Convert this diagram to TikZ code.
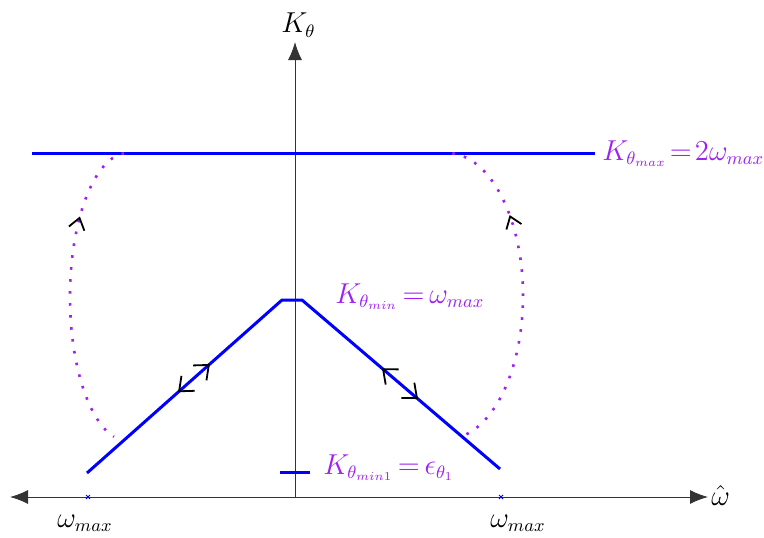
\documentclass[tikz,border=0pt]{standalone}
\usetikzlibrary{arrows.meta,calc}
\definecolor{kblue}{RGB}{0,0,255}
\definecolor{kpurple}{RGB}{160,32,240}
\DeclareMathSizes{14.4}{14.4}{9}{6.5}
\begin{document}
\begin{tikzpicture}[x=0.5pt,y=0.5pt,
  axis/.style={line width=0.5pt, draw=black!80, -{Latex[length=9pt,width=7pt]}},
  bline/.style={line width=1.5pt, draw=kblue},
  dots/.style={line width=1.3pt, draw=kpurple, dash pattern=on 1.3pt off 4.7pt},
  barb/.style={line width=0.9pt, black, -{Straight Barb[length=6pt,width=10pt]}},
  barbs/.style={line width=0.9pt, black, -{Straight Barb[length=5.5pt,width=8pt]}},
  tick/.style={line width=0.5pt, draw=kblue},
  lbl/.style={inner sep=0pt, font=\fontsize{14.4}{17}\selectfont},
  plbl/.style={lbl, text=kpurple}]
\useasboundingbox (0,0) rectangle (764,537);
% axes
\coordinate (O) at (295,40);
\coordinate (xl) at (10,40);
\coordinate (xr) at (708,40);
\coordinate (yt) at (295,495);
\draw[axis] (O) -- (xl);
\draw[axis] (O) -- (xr);
\draw[axis] (O) -- (yt);
% blue lines
\coordinate (T1) at (32,384);
\coordinate (T2) at (595,384);
\draw[bline] (T1) -- (T2);
\coordinate (A) at (87,64);
\coordinate (B) at (282,237);
\coordinate (C) at (302,237);
\coordinate (D) at (500,68);
\draw[bline] (A) -- (B) -- (C) -- (D);
\coordinate (S1) at (280,65);
\coordinate (S2) at (310,65);
\draw[bline] (S1) -- (S2);
% crosses on axis
\coordinate (m1) at (88,40);
\coordinate (m2) at (501,40);
\draw[tick] ($(m1)+(-2,-2)$) -- ($(m1)+(2,2)$) ($(m1)+(-2,2)$) -- ($(m1)+(2,-2)$);
\draw[tick] ($(m2)+(-2,-2)$) -- ($(m2)+(2,2)$) ($(m2)+(-2,2)$) -- ($(m2)+(2,-2)$);
% dotted arcs
\coordinate (Lc) at (128,240);
\coordinate (Rc) at (447,241);
\path (Lc) ++(94:58 and 144) coordinate (la);
\path (Rc) ++(86:76 and 143) coordinate (ra);
\draw[dots] (la) arc[start angle=94, end angle=256, x radius=58, y radius=144];
\draw[dots] (ra) arc[start angle=86, end angle=-76, x radius=76, y radius=143];
% arc arrows
\path (Lc) ++(146:58 and 144) coordinate (lt);
\path (Rc) ++(34.5:76 and 143) coordinate (rt);
\draw[barbs] ($(lt)+(254.8:2)$) -- (lt);
\draw[barbs] ($(rt)+(290:2)$) -- (rt);
% slope arrows
\draw[barb] ($(A)!0.615!(B)$) -- ($(A)!0.63!(B)$);
\draw[barb] ($(A)!0.48!(B)$) -- ($(A)!0.467!(B)$);
\draw[barb] ($(C)!0.42!(D)$) -- ($(C)!0.404!(D)$);
\draw[barb] ($(C)!0.57!(D)$) -- ($(C)!0.586!(D)$);
% labels
\node[lbl, anchor=base west] (kt) at (281,504) {$K_\theta$};
\node[lbl, anchor=base west] (wh) at (711,32) {$\hat{\omega}$};
\node[lbl, anchor=base west] (wl) at (57,10) {$\omega_{max}$};
\node[lbl, anchor=base west] (wr) at (490,10) {$\omega_{max}$};
\node[plbl, anchor=base west] (kmax) at (602,377) {$K_{\theta_{max}}\mskip-3mu=\mskip-3mu2\omega_{max}$};
\node[plbl, anchor=base west] (kmin) at (335,234) {$K_{\theta_{min}}\mskip-2mu=\mskip-2mu\omega_{max}$};
\node[plbl, anchor=base west] (kmin1) at (323,63) {$K_{\theta_{min1}}\mskip-2mu=\mskip-2mu\epsilon_{\theta_1}$};
\end{tikzpicture}
\end{document}
